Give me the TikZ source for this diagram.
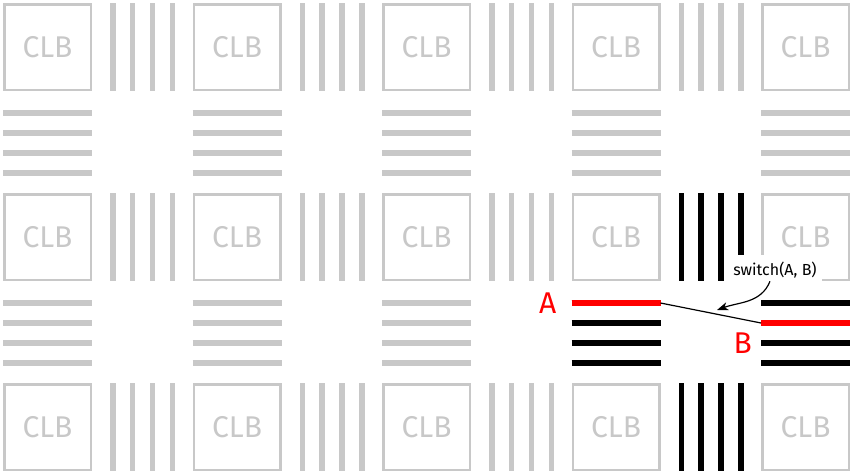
\documentclass[tikz,border=0pt]{standalone}
\usepackage{fontspec}
\setmainfont{Fira Sans}
\usetikzlibrary{positioning,arrows.meta}
\definecolor{clbgray}{RGB}{200,200,200}
\begin{document}
\begin{tikzpicture}[
  x=1pt, y=-1pt,
  clb/.style={draw=clbgray, line width=2.5pt, minimum width=86.5pt, minimum height=85.5pt,
    inner sep=0pt, text=clbgray, font=\fontsize{30}{30}\selectfont},
  wire/.style={draw=clbgray, line width=5.5pt},
  used/.style={draw=black, line width=5.5pt},
  picked/.style={draw=red, line width=5.5pt},
  pin/.style={text=red, inner sep=0pt, font=\fontsize{30}{30}\selectfont},
  note/.style={fill=white, inner xsep=5pt, inner ysep=7pt, font=\fontsize{16}{16}\selectfont}
]
  \useasboundingbox (0,0) rectangle (852,474);

  % vertical routing channels
  \foreach \c in {0,...,3}
    \foreach \r in {0,1,2}
      \foreach \k in {110,129.5,149.5,169.5}
        \draw[wire] (3+189.5*\c+\k, 3+190*\r) -- (3+189.5*\c+\k, 91+190*\r);

  % horizontal routing channels
  \foreach \c in {0,...,4}
    \foreach \r in {0,1}
      \foreach \k in {110,130,150,170}
        \draw[wire] (3+189.5*\c, 3+190*\r+\k) -- (92+189.5*\c, 3+190*\r+\k);

  % logic blocks
  \foreach \c in {0,...,4}
    \foreach \r in {0,1,2}
      \node[clb] (clb-\r-\c) at (47.5+189.5*\c, 47+190*\r) {CLB};

  % wires in use
  \foreach \r in {1,2}
    \foreach \k in {110,129.5,149.5,169.5}
      \draw[used] (571.5+\k, 3+190*\r) -- (571.5+\k, 91+190*\r);
  \foreach \c in {3,4}
    \foreach \k in {110,130,150,170}
      \draw[used] (3+189.5*\c, 193+\k) -- (92+189.5*\c, 193+\k);

  % the two wires that get joined
  \coordinate (a0) at (571.5,303);
  \coordinate (a1) at (660.5,303);
  \coordinate (b0) at (761,323);
  \coordinate (b1) at (850,323);
  \draw[picked] (a0) -- (a1);
  \draw[picked] (b0) -- (b1);
  \draw[line width=1.2pt] (a1) -- (b0);
  \node[pin, left=15pt of a0] (A) {A};
  \node[pin, below left=10pt and 9pt of b0] (B) {B};

  % switch label
  \node[note] (sw) at (775,270) {switch(A, B)};
  \coordinate (swtip) at (717,310);
  \draw[-{Stealth[length=11pt,width=8pt,inset=3pt]}, line width=1.2pt]
    ([xshift=-5pt,yshift=4pt]sw.south) to[out=-112, in=20] (swtip);
\end{tikzpicture}
\end{document}
